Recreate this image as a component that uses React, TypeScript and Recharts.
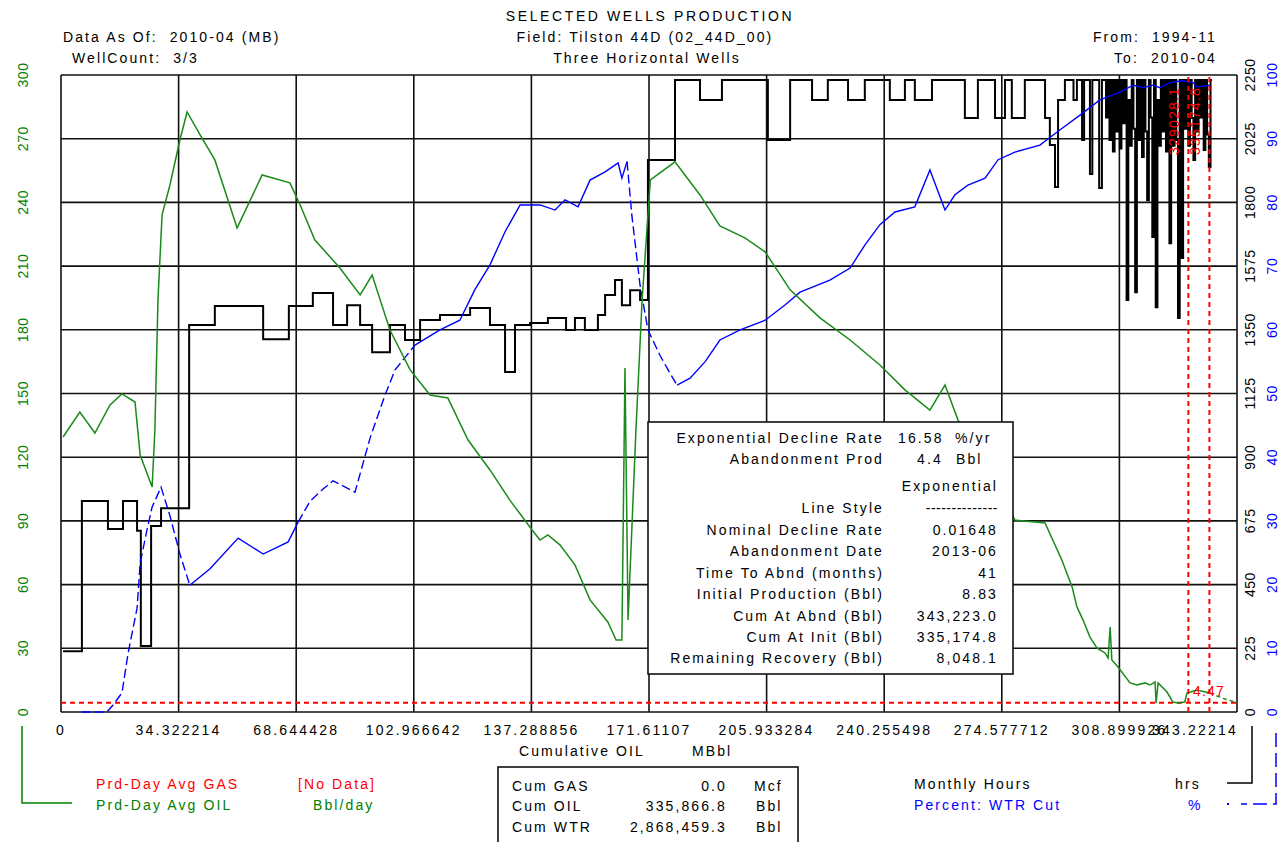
import React from 'react';
import { ComposedChart, Line, XAxis, YAxis, CartesianGrid, ReferenceLine } from 'recharts';

const FONT = '"Liberation Sans", Arial, sans-serif';
const GREEN = '#008000';
const BLUE = '#0000ff';
const RED = '#ff0000';

// x axis: cumulative oil (MBbl)
const xTicks = [0, 34.322214, 68.644428, 102.966642, 137.288856, 171.61107, 205.933284, 240.255498, 274.577712, 308.899926, 343.22214];
const xTickLabels = ['0', '34.322214', '68.644428', '102.966642', '137.288856', '171.61107', '205.933284', '240.255498', '274.577712', '308.899926', '343.22214'];
const oilTicks = [0, 30, 60, 90, 120, 150, 180, 210, 240, 270, 300];
const hrsTicks = [0, 225, 450, 675, 900, 1125, 1350, 1575, 1800, 2025, 2250];
const wtrTicks = [0, 10, 20, 30, 40, 50, 60, 70, 80, 90, 100];

// Prd-Day Avg OIL (Bbl/day) vs cum oil
const oilPoints: [number, number][] = [
  [0.6, 129.5], [5.5, 141.3], [9.9, 131.4], [14.3, 144.6], [17.8, 149.8], [21.6, 146.0],
  [23.1, 121.0], [26.6, 106.0], [27.4, 132.8], [28.3, 194.1], [29.5, 234.1], [31.8, 248.2],
  [34.7, 269.4], [36.8, 282.6], [40.6, 271.8], [44.9, 260.0], [51.4, 228.0], [58.7, 252.9],
  [66.8, 249.2], [69.8, 238.8], [74.1, 222.3], [81.4, 209.1], [87.3, 196.4], [90.8, 205.8],
  [96.0, 179.9], [101.9, 161.1], [107.7, 149.3], [112.9, 147.9], [118.8, 128.1], [125.2, 114.0],
  [131.0, 99.8], [137.5, 85.7], [139.8, 81.0], [142.1, 83.4], [145.6, 78.7], [150.0, 69.3],
  [154.4, 52.8], [159.6, 42.4], [162.0, 33.9], [163.7, 33.9], [164.6, 162.0], [165.5, 43.3],
  [167.8, 132.8], [169.6, 194.0], [172.0, 250.6], [179.2, 259.1], [186.5, 243.5], [192.3, 228.9],
  [199.6, 223.3], [205.5, 216.7], [212.8, 198.8], [221.5, 185.6], [230.3, 175.2], [239.0, 163.4],
  [246.3, 151.7], [253.6, 142.2], [258.0, 154.0], [261.8, 137.5], [271.1, 114.0], [278.4, 90.4],
  [287.2, 89.0], [292.1, 71.6], [295.1, 58.9], [296.5, 49.5], [298.3, 43.3], [300.3, 35.3],
  [302.4, 30.1], [304.7, 27.8], [305.6, 25.4], [306.2, 40.0], [306.7, 24.5], [308.5, 21.2],
  [312.0, 13.7], [314.0, 12.7], [316.4, 13.7], [317.8, 12.7], [319.3, 14.1], [319.6, 4.2],
  [320.2, 13.7], [322.8, 9.4], [324.5, 4.7], [326.0, 4.2], [328.0, 4.7], [328.6, 8.9],
  [331.5, 10.4], [335.3, 8.9],
];
// exponential forecast tail
const forecastPoints: [number, number][] = [[335.3, 8.9], [339.2, 6.4], [343.2, 4.4]];

// Monthly Hours (hrs) vs cum oil, step line
const hoursPoints: [number, number][] = [
  [0.6, 215], [6.1, 745], [13.7, 646], [18.1, 745], [22.2, 640], [23.3, 233], [26.3, 657],
  [29.2, 720], [37.4, 1367], [44.9, 1434], [59.0, 1317], [66.5, 1434], [73.5, 1480], [79.4, 1367],
  [83.5, 1437], [87.3, 1367], [90.8, 1271], [96.0, 1367], [100.4, 1314], [104.8, 1385], [110.6, 1402],
  [119.4, 1427], [125.2, 1367], [129.6, 1201], [132.5, 1367], [136.9, 1374], [142.1, 1392], [147.4, 1349],
  [150.0, 1392], [152.9, 1349], [156.7, 1402], [158.8, 1473], [161.7, 1526], [163.7, 1437], [166.1, 1490],
  [169.0, 1455], [171.3, 1950], [179.2, 2232], [186.5, 2162], [192.9, 2232], [206.3, 2020], [212.8, 2232],
  [219.2, 2162], [223.8, 2232], [229.7, 2162], [234.6, 2232], [241.9, 2162], [246.3, 2232], [249.2, 2162],
  [254.2, 2232], [263.8, 2098], [267.6, 2232], [272.6, 2098], [275.5, 2232], [277.5, 2098], [281.3, 2232],
  [287.2, 2098], [288.6, 2003], [290.1, 1854], [291.0, 2162], [293.0, 2232], [295.5, 2162], [296.5, 2232],
  [298.0, 2020], [298.6, 2232], [300.3, 1900], [301.0, 2232], [303.0, 1851], [303.8, 2232], [305.0, 2100],
  [305.5, 2232], [306.0, 2020], [306.5, 2232], [307.0, 1980], [307.5, 2232], [308.0, 2050], [308.5, 2232],
  [309.0, 1990], [309.5, 2232], [310.0, 2080], [310.5, 2232], [311.0, 1455], [311.5, 2162], [312.0, 2000],
  [312.5, 2232], [313.0, 2060], [313.5, 1483], [314.0, 2232], [314.5, 2020], [315.0, 2232], [315.5, 1960],
  [316.0, 2232], [316.5, 2050], [317.0, 1808], [317.5, 2232], [318.0, 2100], [318.5, 1678], [319.0, 2232],
  [319.5, 1430], [320.0, 2162], [320.5, 2000], [321.0, 2232], [321.5, 2050], [322.0, 2232], [322.5, 1980],
  [323.0, 2232], [323.5, 1656], [324.0, 2232], [324.5, 2000], [325.0, 2232], [325.5, 2020], [326.0, 1392],
  [326.5, 2232], [327.0, 1604], [327.5, 2232], [328.0, 2060], [328.5, 2232], [329.0, 2000], [329.5, 2232],
  [330.0, 2098], [330.5, 1950], [331.0, 2232], [331.5, 2050], [332.0, 2232], [332.5, 2100], [333.0, 2232],
  [333.5, 1985], [334.0, 2232], [334.5, 2040], [335.0, 1925], [335.5, 2232], [335.9, 2232],
];

// Percent WTR cut vs cum oil
const wtrPoints: [number, number][] = [
  [6.0, 0], [13.4, 0], [15.2, 1.1], [17.8, 3.0], [19.6, 9.3], [22.2, 16.3], [23.1, 23.4], [25.1, 28.6],
  [26.6, 32.2], [29.2, 35.3], [31.8, 30.8], [34.7, 24.8], [37.6, 19.9], [43.5, 22.5], [51.7, 27.3],
  [59.0, 24.8], [66.3, 26.7], [69.2, 29.8], [72.7, 33.1], [76.5, 35.0], [79.4, 36.3], [85.8, 34.5],
  [90.2, 43.0], [94.6, 49.8], [97.5, 53.7], [103.3, 57.6], [110.6, 60.0], [116.4, 61.5], [120.8, 66.3],
  [125.2, 70.2], [129.6, 75.4], [134.0, 79.6], [139.8, 79.6], [144.2, 78.8], [147.1, 80.4], [150.9, 79.3],
  [154.4, 83.5], [158.8, 84.8], [162.6, 86.2], [163.7, 83.8], [165.2, 86.4], [166.6, 78.0], [169.0, 67.0],
  [171.3, 60.0], [174.8, 56.0], [177.2, 53.7], [179.8, 51.3], [183.6, 52.4], [188.0, 55.0], [192.3, 58.4],
  [198.2, 60.0], [205.5, 61.5], [211.3, 63.9], [215.7, 65.9], [224.4, 67.8], [230.3, 69.7], [234.6, 73.3],
  [239.0, 76.5], [243.4, 78.5], [249.2, 79.3], [253.6, 85.1], [258.0, 78.8], [260.9, 81.2], [264.7, 82.7],
  [269.7, 83.8], [273.5, 86.7], [278.4, 87.9], [285.7, 89.0], [291.6, 91.4], [297.4, 93.7], [303.2, 96.1],
  [309.1, 97.3], [312.9, 98.4], [315.8, 98.0], [318.7, 98.4], [320.7, 98.0], [323.6, 98.8], [327.2, 99.1],
  [330.4, 98.8], [331.5, 98.1], [335.3, 98.4],
];
// index ranges of the wtr line, dashed or solid
const wtrSegments: [number, number, boolean][] = [
  [0, 12, true], [12, 17, false], [17, 25, true], [25, 40, false], [40, 46, true], [46, 80, false],
];

const abandonRate = 4.4;
const markers = [
  { cum: 329.028, label: '329028.1' },
  { cum: 335.1748, label: '335174.8' },
];

const toRows = (pts: [number, number][]) => pts.map(([cum, v]) => ({ cum, v }));

const infoRows = [
  ['Nominal Decline Rate', '0.01648'],
  ['Abandonment Date', '2013-06'],
  ['Time To Abnd (months)', '41'],
  ['Initial Production (Bbl)', '8.83'],
  ['Cum At Abnd (Bbl)', '343,223.0'],
  ['Cum At Init (Bbl)', '335,174.8'],
  ['Remaining Recovery (Bbl)', '8,048.1'],
];

const T = ({ x, y, children, anchor = 'start', color = '#000', size = 14, ls = 2.1 }: any) => (
  <text x={x} y={y} textAnchor={anchor} dominantBaseline="central" fill={color}
    style={{ fontFamily: FONT, fontSize: size, letterSpacing: ls, whiteSpace: 'pre' }}>{children}</text>
);

const XTick = ({ x, index }: any) => {
  const last = index === xTicks.length - 1;
  return (
    <text x={last ? 1238 : x} y={730} textAnchor={last ? 'end' : 'middle'} dominantBaseline="central"
      fill="#000" style={{ fontFamily: FONT, fontSize: 14, letterSpacing: 2.2 }}>
      {xTickLabels[index]}
    </text>
  );
};

const makeYTick = (cx: number, color: string) => ({ y, payload }: any) => (
  <text x={cx} y={y} transform={`rotate(-90 ${cx} ${y})`} textAnchor="middle" dominantBaseline="central"
    fill={color} style={{ fontFamily: FONT, fontSize: 14, letterSpacing: 0.5 }}>
    {payload.value}
  </text>
);

const MarkerTag = ({ viewBox, text }: any) => {
  const x = viewBox.x - 14;
  return (
    <text x={x} y={121} transform={`rotate(-90 ${x} 121)`} textAnchor="middle" dominantBaseline="central"
      fill={RED} style={{ fontFamily: FONT, fontSize: 14, letterSpacing: 1.2 }}>{text}</text>
  );
};

export default function App() {
  const oilData = toRows(oilPoints);
  const hoursData = toRows(hoursPoints);
  const forecastData = toRows(forecastPoints);
  const wtrData = toRows(wtrPoints);

  return (
    <div style={{ position: 'absolute', left: 0, top: 0, width: 1283, height: 842, background: '#fff' }}>
      <ComposedChart width={1283} height={842} margin={{ top: 75, right: 0, bottom: 100, left: 0 }}>
        <CartesianGrid yAxisId="oil" stroke="#111" strokeWidth={1.6} strokeOpacity={1} />
        <XAxis type="number" dataKey="cum" domain={[0, 343.22214]} ticks={xTicks} interval={0}
          allowDataOverflow height={30} axisLine={false} tickLine={false} tick={<XTick />} />
        <YAxis yAxisId="oil" orientation="left" domain={[0, 300]} ticks={oilTicks} interval={0} width={61}
          axisLine={false} tickLine={false} tick={makeYTick(23, GREEN)} />
        <YAxis yAxisId="hrs" orientation="right" domain={[0, 2250]} ticks={hrsTicks} interval={0} width={23}
          axisLine={false} tickLine={false} tick={makeYTick(1250, '#000')} />
        <YAxis yAxisId="wtr" orientation="right" domain={[0, 100]} ticks={wtrTicks} interval={0} width={23}
          axisLine={false} tickLine={false} tick={makeYTick(1272, BLUE)} />

        <ReferenceLine yAxisId="oil" y={abandonRate} stroke={RED} strokeWidth={2} strokeDasharray="5 4" />

        <Line yAxisId="hrs" data={hoursData} dataKey="v" type="stepAfter" stroke="#000" strokeWidth={2}
          dot={false} isAnimationActive={false} />
        {wtrSegments.map(([a, b, dashed], i) => (
          <Line key={i} yAxisId="wtr" data={wtrData.slice(a, b + 1)} dataKey="v" type="linear" stroke={BLUE}
            strokeWidth={1.4} strokeDasharray={dashed ? '9 4' : undefined} dot={false} isAnimationActive={false} />
        ))}
        <Line yAxisId="oil" data={oilData} dataKey="v" type="linear" stroke="#1a8a1a" strokeWidth={1.5}
          dot={false} isAnimationActive={false} />
        <Line yAxisId="oil" data={forecastData} dataKey="v" type="linear" stroke="#1a8a1a" strokeWidth={1.5}
          strokeDasharray="4 3" dot={false} isAnimationActive={false} />

        {markers.map((m) => (
          <ReferenceLine key={m.label} yAxisId="oil" x={m.cum} stroke={RED} strokeWidth={2} strokeDasharray="5 4"
            label={<MarkerTag text={m.label} />} />
        ))}
      </ComposedChart>

      <svg width={1283} height={842} style={{ position: 'absolute', left: 0, top: 0, pointerEvents: 'none' }}>
        {/* header */}
        <T x={650} y={16} anchor="middle" ls={2.6}>SELECTED WELLS PRODUCTION</T>
        <T x={645} y={37} anchor="middle">Field: Tilston 44D (02_44D_00)</T>
        <T x={647} y={58} anchor="middle">Three Horizontal Wells</T>
        <T x={63} y={37}>Data As Of:  2010-04 (MB)</T>
        <T x={72} y={58}>WellCount:  3/3</T>
        <T x={1217} y={37} anchor="end">From:  1994-11</T>
        <T x={1217} y={58} anchor="end">To:  2010-04</T>

        <T x={519} y={751}>Cumulative OIL</T>
        <T x={692} y={751}>MBbl</T>

        {/* forecast annotation */}
        <T x={1193} y={691} color={RED} ls={1.2}>4.47</T>

        {/* decline info box */}
        <rect x={648} y={422} width={365} height={252} fill="#fff" stroke="#111" strokeWidth={1.6} />
        <T x={884} y={438} anchor="end">Exponential Decline Rate</T>
        <T x={898} y={438}>16.58</T>
        <T x={955} y={438}>%/yr</T>
        <T x={884} y={459} anchor="end">Abandonment Prod</T>
        <T x={917} y={459}>4.4</T>
        <T x={956} y={459}>Bbl</T>
        <T x={998} y={486} anchor="end">Exponential</T>
        <T x={884} y={508} anchor="end">Line Style</T>
        <T x={998} y={508} anchor="end" ls={0.5}>--------------</T>
        {infoRows.map(([k, v], i) => (
          <g key={k}>
            <T x={884} y={530 + i * 21.4} anchor="end">{k}</T>
            <T x={998} y={530 + i * 21.4} anchor="end">{v}</T>
          </g>
        ))}

        {/* legend left */}
        <polyline points="22,726 22,803 72,803" fill="none" stroke={GREEN} strokeWidth={1.5} />
        <T x={96} y={784} color={RED}>Prd-Day Avg GAS</T>
        <T x={298} y={784} color={RED}>[No Data]</T>
        <T x={96} y={805} color={GREEN}>Prd-Day Avg OIL</T>
        <T x={313} y={805} color={GREEN}>Bbl/day</T>

        {/* cum box */}
        <rect x={498} y={767} width={300} height={80} fill="#fff" stroke="#111" strokeWidth={1.6} />
        <T x={512} y={786}>Cum GAS</T>
        <T x={727} y={786} anchor="end">0.0</T>
        <T x={754} y={786}>Mcf</T>
        <T x={512} y={806}>Cum OIL</T>
        <T x={727} y={806} anchor="end">335,866.8</T>
        <T x={756} y={806}>Bbl</T>
        <T x={512} y={827}>Cum WTR</T>
        <T x={727} y={827} anchor="end">2,868,459.3</T>
        <T x={756} y={827}>Bbl</T>

        {/* legend right */}
        <T x={914} y={784}>Monthly Hours</T>
        <T x={1175} y={784}>hrs</T>
        <T x={914} y={805} color={BLUE}>Percent: WTR Cut</T>
        <T x={1188} y={805} color={BLUE}>%</T>
        <polyline points="1252,726 1252,783 1227,783" fill="none" stroke="#000" strokeWidth={1.5} />
        <polyline points="1276,733 1276,804 1241,804" fill="none" stroke={BLUE} strokeWidth={1.5} strokeDasharray="14 6" />
        <rect x={1227} y={803} width={2} height={2} fill={BLUE} />
      </svg>
    </div>
  );
}
